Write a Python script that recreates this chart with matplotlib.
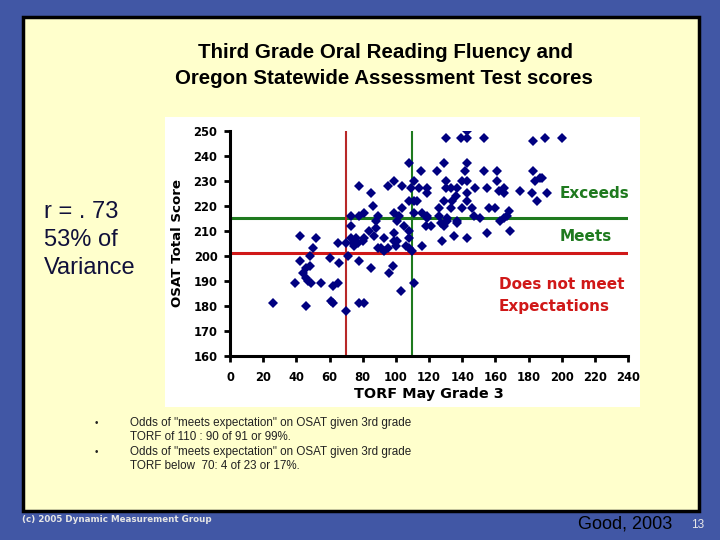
import matplotlib
matplotlib.use("Agg")
import matplotlib.pyplot as plt
from matplotlib.patches import Rectangle

# ---------------- data ----------------
torf = [26, 39, 42, 42, 44, 46, 48, 46, 47, 49, 46, 48, 50, 52, 55, 60, 61, 62, 62, 65, 65, 66,
        70, 71, 70, 73, 73, 73, 74, 75, 76, 77, 78, 78, 78, 78, 81, 81, 80, 81, 85, 84, 85, 86,
        87, 88, 88, 89, 89, 91, 93, 93, 95, 95, 96, 98, 99, 99, 99, 99, 100, 101, 101, 102, 103,
        104, 104, 105, 106, 108, 108, 108, 108, 108, 109,
        110, 111, 111, 111, 113, 114, 115, 111, 116, 116, 118, 119, 119, 119, 119, 121,
        125, 126, 126, 127, 128, 129, 129, 129, 130, 130, 130, 131, 131, 133, 133, 134, 135, 136,
        137, 137, 137, 139, 140, 140, 142, 143, 143, 143, 143, 143, 143, 143, 146, 147, 148, 151,
        153, 153, 155, 155, 156, 160, 161, 161, 162, 163, 165, 165, 165, 167, 168, 169, 175, 182,
        183, 183, 184, 185, 187, 188, 190, 191, 200]
osat = [181, 189, 208, 198, 193, 195, 196, 191, 190, 189, 180, 200, 203, 207, 189, 199, 182, 181, 188, 189, 205, 197,
        205, 200, 178, 207, 212, 216, 205, 204, 207, 205, 228, 216, 198, 181, 181, 217, 206, 207, 225, 210, 195, 220,
        208, 214, 211, 216, 203, 203, 202, 207, 203, 228, 193, 196, 230, 217, 209, 206, 204, 214, 206, 216, 186,
        228, 219, 212, 204, 237, 210, 207, 203, 222, 227,
        202, 230, 189, 222, 222, 227, 234, 217, 217, 204, 212, 227, 225, 216, 215, 212,
        234, 219, 216, 213, 206, 212, 237, 222, 247, 230, 227, 215, 214, 227, 219, 222, 208, 224,
        227, 214, 213, 247, 230, 219, 234, 250, 247, 237, 230, 225, 222, 207, 219, 216, 227, 215,
        247, 234, 209, 227, 219, 219, 234, 230, 226, 214, 215, 227, 225, 216, 218, 210, 226, 225,
        234, 246, 230, 222, 231, 231, 247, 225, 247]

x_ticks = [0, 20, 40, 60, 80, 100, 120, 140, 160, 180, 200, 220, 240]
y_ticks = [160, 170, 180, 190, 200, 210, 220, 230, 240, 250]
cut_torf_low = 70
cut_torf_high = 110
cut_osat_meets = 201
cut_osat_exceeds = 215

title_lines = ["Third Grade Oral Reading Fluency and", "Oregon Statewide Assessment Test scores"]
left_lines = ["r = . 73", "53% of", "Variance"]
bullets = [("Odds of \"meets expectation\" on OSAT given 3rd grade", "TORF of 110 : 90 of 91 or 99%."),
           ("Odds of \"meets expectation\" on OSAT given 3rd grade", "TORF below  70: 4 of 23 or 17%.")]

BLUE = "#4157A5"
CREAM = "#FFFFCC"
RED = "#D01818"
GREEN = "#1E7A1E"
NAVY = "#000080"

W, H = 720, 540
fig = plt.figure(figsize=(7.2, 5.4), dpi=100)
fig.patch.set_facecolor(BLUE)

# background axes in pixel coords
bg = fig.add_axes([0, 0, 1, 1])
bg.set_xlim(0, W)
bg.set_ylim(H, 0)
bg.axis("off")
bg.add_patch(Rectangle((23, 17), 676, 494, facecolor=CREAM, edgecolor="black", lw=2.5))
bg.add_patch(Rectangle((165, 117), 475, 290, facecolor="white", edgecolor="none"))

bg.text(385, 53, title_lines[0], ha="center", va="center", fontsize=14.8,
        fontweight="bold", family="Liberation Sans", color="black")
bg.text(384, 79, title_lines[1], ha="center", va="center", fontsize=14.8,
        fontweight="bold", family="Liberation Sans", color="black")

for i, t in enumerate(left_lines):
    bg.text(44, 212 + 28 * i, t, ha="left", va="center", fontsize=17,
            family="Liberation Sans", color="#10103A")

for i, (l1, l2) in enumerate(bullets):
    y0 = 423 + 29 * i
    bg.text(95, y0, "\u2022", ha="left", va="center", fontsize=7, color="#222222",
            family="Liberation Sans")
    bg.text(130, y0, l1, ha="left", va="center", fontsize=8.4, color="#222222",
            family="Liberation Sans")
    bg.text(130, y0 + 14, l2, ha="left", va="center", fontsize=8.4, color="#222222",
            family="Liberation Sans")

bg.text(22, 520, "(c) 2005 Dynamic Measurement Group", ha="left", va="center",
        fontsize=6.3, fontweight="bold", family="DejaVu Sans", color="#E6E6E6")
bg.text(578, 524, "Good, 2003", ha="left", va="center", fontsize=13,
        family="Liberation Sans", color="black")
bg.text(698, 525, "13", ha="center", va="center", fontsize=8.5,
        family="Liberation Sans", color="#E8E8E8")

# chart axes
ax = fig.add_axes([230 / W, 1 - 356 / H, 398 / W, 225 / H])
ax.set_facecolor("none")
ax.set_xlim(0, 240)
ax.set_ylim(160, 250)
for s in ["top", "right"]:
    ax.spines[s].set_visible(False)
for s in ["left", "bottom"]:
    ax.spines[s].set_linewidth(2.2)
    ax.spines[s].set_color("black")
ax.set_xticks(x_ticks)
ax.set_yticks(y_ticks)
ax.tick_params(axis="both", direction="out", length=4, width=2, labelsize=8.3, pad=5)
for lab in ax.get_xticklabels() + ax.get_yticklabels():
    lab.set_fontweight("bold")
    lab.set_family("DejaVu Sans")
ax.tick_params(axis="x", pad=7)

ax.axhline(cut_osat_exceeds, color=GREEN, lw=2.2, zorder=2)
ax.axhline(cut_osat_meets, color=RED, lw=2.2, zorder=2)
ax.axvline(cut_torf_low, color="#B82828", lw=1.5, zorder=2)
ax.axvline(cut_torf_high, color=GREEN, lw=1.5, zorder=2)

ax.plot(torf, osat, linestyle="none", marker="D", markersize=4.8,
        color=NAVY, markeredgewidth=0, zorder=3)

ax.set_xlabel("TORF May Grade 3", fontsize=10.4, fontweight="bold",
              family="DejaVu Sans", labelpad=2)
ax.set_ylabel("OSAT Total Score", fontsize=9.6, fontweight="bold",
              family="DejaVu Sans", labelpad=7)

ax.text(198.5, 224.8, "Exceeds", color=GREEN, fontsize=11, fontweight="bold",
        family="DejaVu Sans", ha="left", va="center", clip_on=False)
ax.text(198.5, 207.6, "Meets", color=GREEN, fontsize=11, fontweight="bold",
        family="DejaVu Sans", ha="left", va="center", clip_on=False)
ax.text(162.2, 188.4, "Does not meet", color=RED, fontsize=11, fontweight="bold",
        family="DejaVu Sans", ha="left", va="center", clip_on=False)
ax.text(162.2, 180.0, "Expectations", color=RED, fontsize=11, fontweight="bold",
        family="DejaVu Sans", ha="left", va="center", clip_on=False)

fig.savefig("out.png", dpi=100, facecolor=fig.get_facecolor())
